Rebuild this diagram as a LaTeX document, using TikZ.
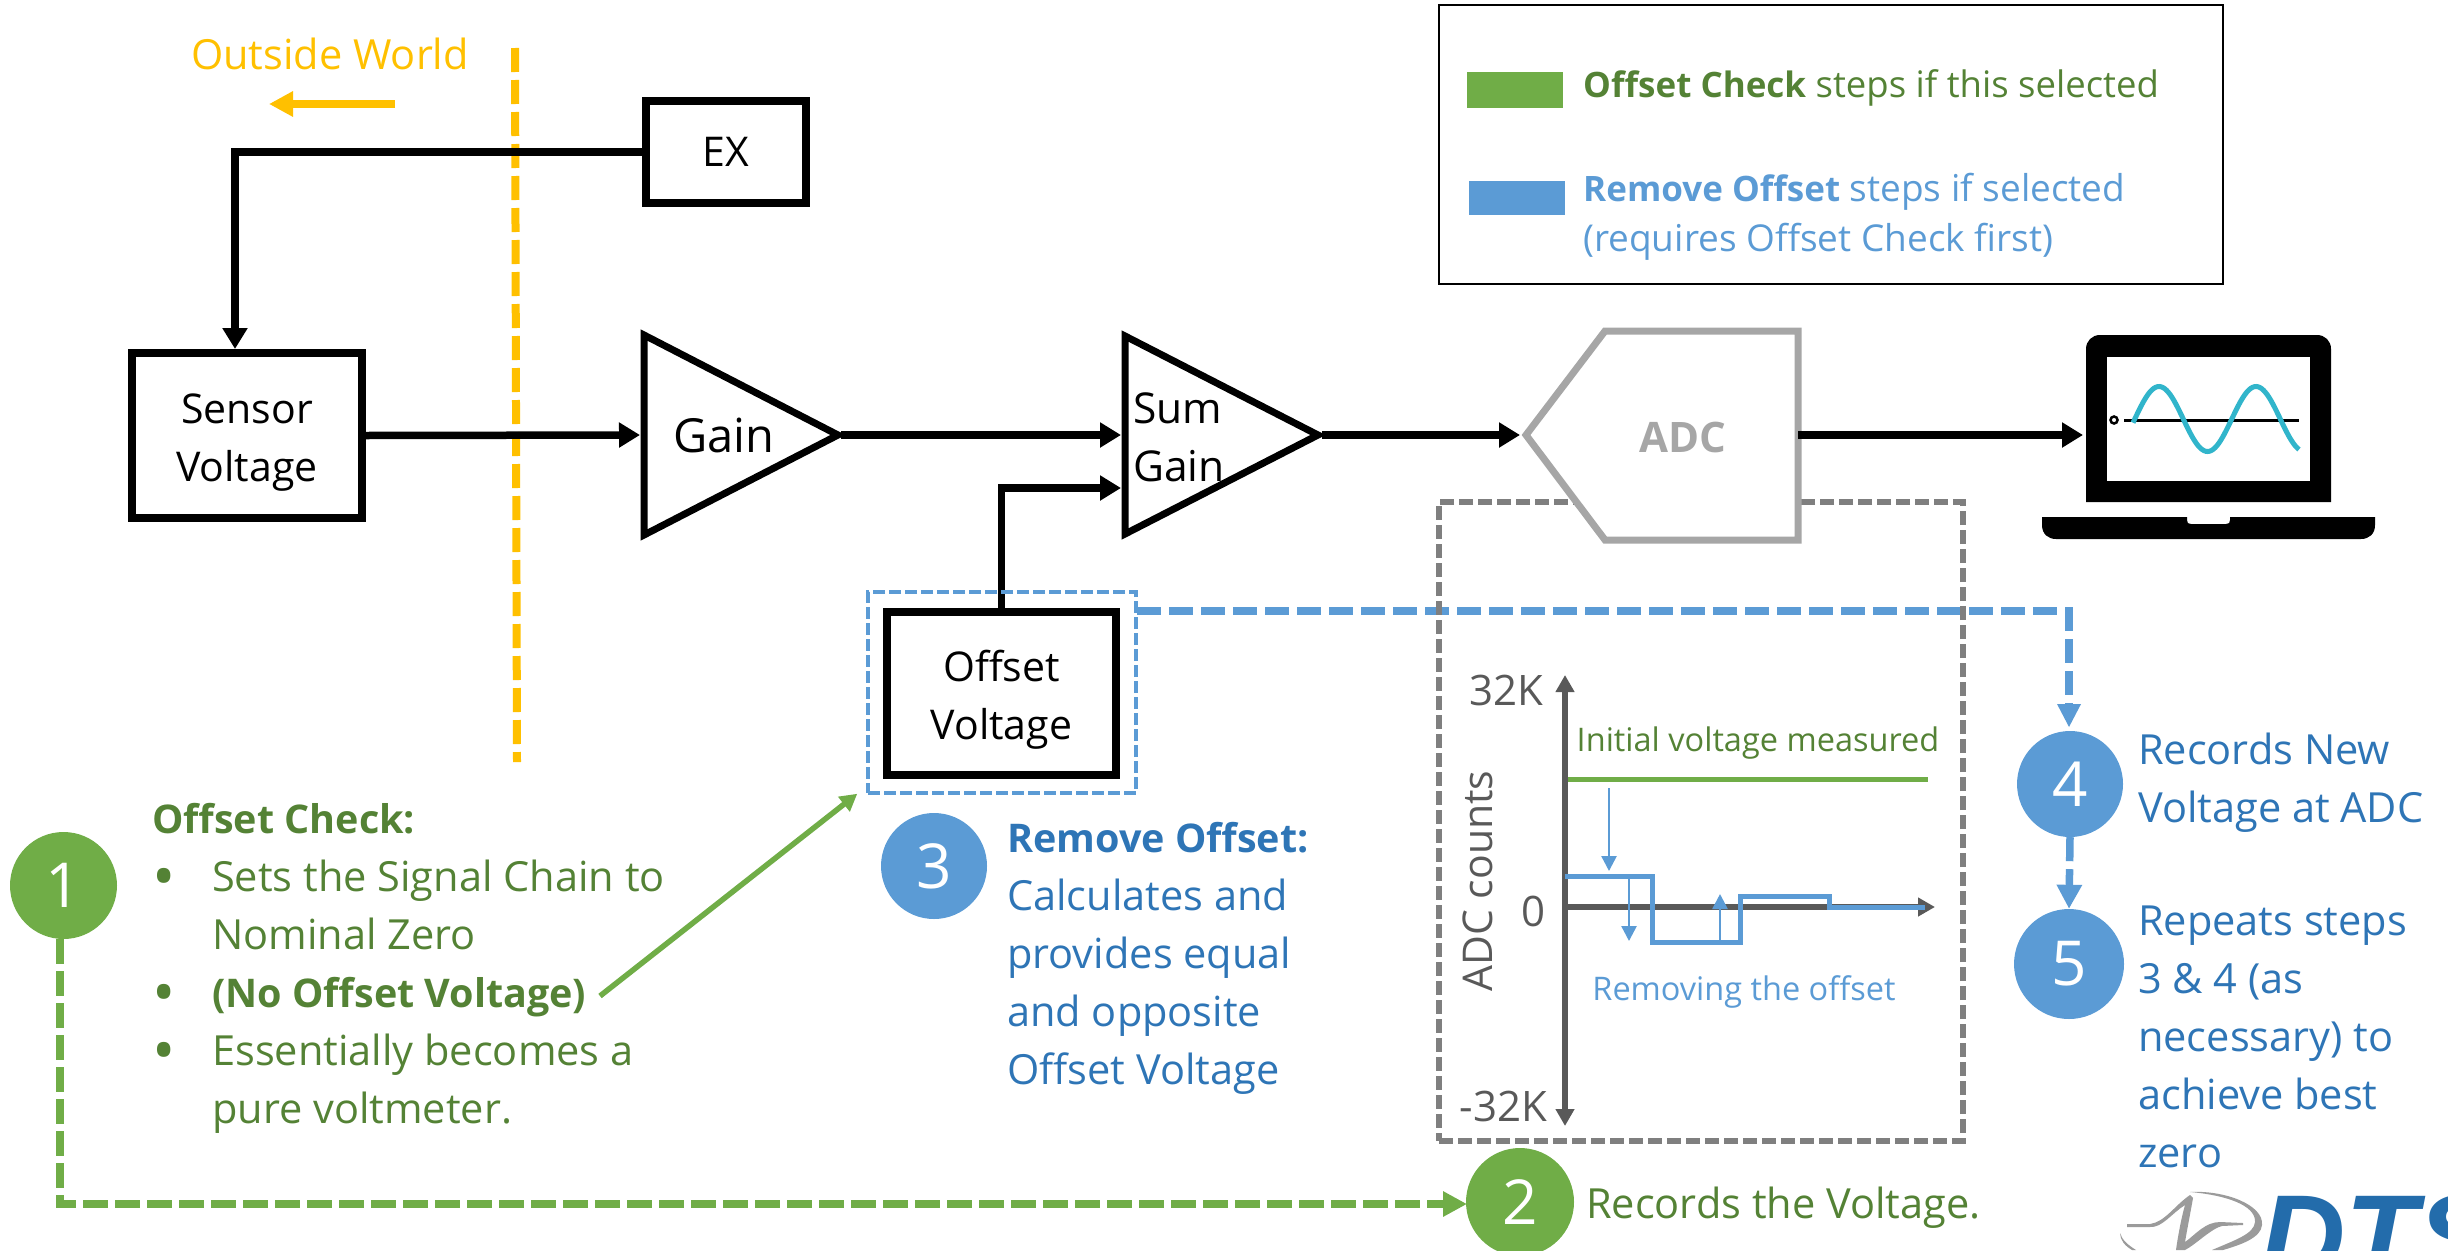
\documentclass[tikz,border=0pt]{standalone}
\usepackage{fontspec}
\setmainfont{Open Sans}
\newfontfamily\logofont{Liberation Sans}
\usetikzlibrary{arrows.meta}
\definecolor{gfill}{HTML}{70AD47}
\definecolor{gtext}{HTML}{548235}
\definecolor{bfill}{HTML}{5B9BD5}
\definecolor{btext}{HTML}{2E75B6}
\definecolor{gold}{HTML}{FFC000}
\definecolor{frameg}{HTML}{7F7F7F}
\definecolor{adcg}{HTML}{A6A6A6}
\definecolor{axisg}{HTML}{595959}
\definecolor{sinec}{HTML}{31B5CB}
\definecolor{logob}{HTML}{236CAB}
\definecolor{logog}{HTML}{9B9B9B}
\newcommand{\fs}[2]{\fontsize{#1}{#2}\selectfont}
\newcommand{\bx}[1]{{\fs{39.5}{58}\bfseries #1}}
\newcommand{\bul}{\makebox[60pt][l]{\raisebox{-7pt}{\fs{62}{58}•}}}
\newcommand{\nobul}{\makebox[60pt][l]{}}
\newcommand{\topstrut}{\rule{0pt}{43pt}}
\tikzset{
  wire/.style={line width=7.5pt,draw=black,-{Triangle[length=21pt,width=24pt]}},
  bigbox/.style={draw=black,line width=7.5pt,fill=white,inner sep=0pt,align=center,font=\fs{41}{58}},
  tri/.style={draw=black,line width=7pt,fill=white,miter limit=10},
  lab/.style={inner sep=0pt,font=\fs{41.5}{58},align=left},
  stepnum/.style={circle,inner sep=0pt,text=white,font=\fs{62}{62}},
  gdash/.style={draw=gfill,line width=8pt,dash pattern=on 25pt off 7pt},
  bdash/.style={draw=bfill,line width=7.5pt,dash pattern=on 24pt off 8pt},
  thinarrow/.style={draw=bfill,line width=2.5pt,-{Triangle[length=15pt,width=15pt]}},
}
\begin{document}
\begin{tikzpicture}[x=1pt,y=-1pt]
\useasboundingbox (0,0) rectangle (2448,1250);
% outside world
\node[lab,text=gold,anchor=center] (outside) at (330,54) {Outside World};
\coordinate (oA) at (395,104); \coordinate (oB) at (269,104);
\draw[draw=gold,line width=8pt,-{Triangle[length=24pt,width=24pt]}] (oA) -- (oB);
\coordinate (bT) at (515,48); \coordinate (bB) at (517,762);
\draw[draw=gold,line width=8pt,dash pattern=on 24pt off 8pt] (bT) -- (bB);
% legend
\node[draw=black,line width=2.5pt,minimum width=784pt,minimum height=279pt,inner sep=0pt] (legend) at (1831,144.5) {};
\node[fill=gfill,minimum width=96pt,minimum height=36pt,inner sep=0pt] (legG) at (1515,90) {};
\node[fill=bfill,minimum width=96pt,minimum height=34pt,inner sep=0pt] (legB) at (1516.5,198) {};
\node[lab,anchor=west,text=gtext,font=\fs{36.5}{50}] (legGt) at (1583,88) {{\fs{35}{50}\bfseries Offset Check} steps if this selected};
\node[lab,anchor=west,text=bfill,font=\fs{37}{50}] (legBt) at (1583,217) {{\fs{35}{50}\bfseries Remove Offset} steps if selected\\(requires Offset Check first)};
% blocks
\node[bigbox,minimum width=160pt,minimum height=102pt] (ex) at (726,152) {EX};
\node[bigbox,minimum width=230pt,minimum height=165pt] (sensor) at (247,435.5) {\topstrut Sensor\\Voltage};
\coordinate (sensorTop) at (235,349);
\draw[wire] (ex.west) -| (sensorTop);
\draw[tri] (644,335) -- (838,435) -- (644,535) -- cycle;
\node[lab,anchor=center,font=\fs{47}{58}] (gain) at (724,435) {Gain};
\draw[tri] (1125,336) -- (1318,435) -- (1125,534) -- cycle;
\node[lab,anchor=west,font=\fs{42.5}{58}] (sumgain) at (1133,437) {Sum\\Gain};
\coordinate (gainIn) at (640,435); \coordinate (gainOut) at (841,435);
\coordinate (sumIn) at (1121,435); \coordinate (sumIn2) at (1121,488);
\coordinate (sumOut) at (1322,435);
\draw[wire] (sensor.east) -- (gainIn);
\draw[wire] (gainOut) -- (sumIn);
\node[bigbox,minimum width=229pt,minimum height=163pt] (offset) at (1001.5,693.5) {\topstrut Offset\\Voltage};
\draw[wire] (offset.north) |- (sumIn2);
% blue dashed
\node[draw=bfill,line width=3.5pt,dash pattern=on 12pt off 4pt,minimum width=268pt,minimum height=201pt,inner sep=0pt] (offFrame) at (1002,692.5) {};
\node[stepnum,fill=bfill,minimum size=106pt] (c3) at (934,866) {3};
\node[stepnum,fill=bfill,minimum size=106pt] (c4) at (2070,784) {4};
\node[stepnum,fill=bfill,minimum size=110pt] (c5) at (2069,964) {5};
\coordinate (offOut) at (1137,611);
\coordinate (c4in) at (2069,704);
\draw[bdash] (offOut) -| (c4in);
\fill[bfill] (2069,727) -- (2057,704) -- (2081,704) -- cycle;
\draw[bdash,-{Triangle[length=24pt,width=24pt]}] (c4.south) -- (c5.north);
% frame and ADC
\node[draw=frameg,line width=5.5pt,dash pattern=on 14pt off 5pt,minimum width=524pt,minimum height=639pt,inner sep=0pt] (adcFrame) at (1701,821.5) {};
\draw[draw=adcg,line width=7pt,fill=white,miter limit=10] (1526,435) -- (1605,331) -- (1798,331) -- (1798,540) -- (1605,540) -- cycle;
\node[lab,anchor=center,text=adcg,font=\fs{42}{58}\bfseries] (adc) at (1683,437) {ADC};
\coordinate (adcIn) at (1520,435); \coordinate (adcOut) at (1798,435);
\coordinate (lapIn) at (2083,435);
\draw[wire] (sumOut) -- (adcIn);
\draw[wire] (adcOut) -- (lapIn);
% laptop
\fill[black] (2086,502) -- (2086,349) .. controls (2086,341) and (2092,335) .. (2100,335) -- (2317,335) .. controls (2325,335) and (2331,341) .. (2331,349) -- (2331,502) -- cycle;
\fill[white] (2107,357) rectangle (2310,481);
\fill[black] (2042,517) -- (2187,517) -- (2187,520) .. controls (2187,523) and (2188,524) .. (2191,524) -- (2226,524) .. controls (2229,524) and (2230,523) .. (2230,520) -- (2230,517) -- (2375,517) -- (2375,525) .. controls (2375,534) and (2369,539) .. (2361,539) -- (2056,539) .. controls (2048,539) and (2042,534) .. (2042,525) -- cycle;
\draw[black,line width=2.5pt] (2114,420) circle[radius=3.5];
\draw[black,line width=3pt] (2124,420) -- (2299,420);
\draw[sinec,line width=5pt,smooth] plot[domain=-26:140,samples=90] ({2159+\x},{419-32.5*cos(3.7113*\x)});
% chart
\coordinate (yT) at (1565,675); \coordinate (yB) at (1565,1126);
\coordinate (xL) at (1565,907); \coordinate (xR) at (1935,907);
\draw[draw=axisg,line width=6pt,{Triangle[length=17pt,width=18pt]}-{Triangle[length=17pt,width=18pt]}] (yT) -- (yB);
\draw[draw=axisg,line width=6pt,-{Triangle[length=17pt,width=18pt]}] (xL) -- (xR);
\coordinate (gL) at (1568,779); \coordinate (gR) at (1928,779);
\draw[draw=gfill,line width=5pt] (gL) -- (gR);
\draw[draw=bfill,line width=5pt,line join=miter] (1565,876) -- (1652,876) -- (1652,942) -- (1740,942) -- (1740,896) -- (1829,896) -- (1829,907) -- (1925,907);
\coordinate (a1a) at (1609,788); \coordinate (a1b) at (1609,871);
\coordinate (a2a) at (1629,876); \coordinate (a2b) at (1629,941);
\coordinate (a3a) at (1720,942); \coordinate (a3b) at (1720,894);
\draw[thinarrow] (a1a) -- (a1b);
\draw[thinarrow] (a2a) -- (a2b);
\draw[thinarrow] (a3a) -- (a3b);
\node[lab,anchor=center,text=gtext,font=\fs{32.5}{36}] (initial) at (1758,743) {Initial voltage measured};
\node[lab,anchor=center,text=bfill,font=\fs{32.5}{36}] (removing) at (1744,992) {Removing the offset};
\node[lab,anchor=east,text=axisg,font=\fs{42}{46}] (k32) at (1543,690) {32K};
\node[lab,anchor=east,text=axisg,font=\fs{42}{46}] (k0) at (1546,911) {0};
\node[lab,anchor=east,text=axisg,font=\fs{42}{46}] (km32) at (1547,1106) {-32K};
\node[lab,anchor=center,text=axisg,font=\fs{41}{46},rotate=90] (counts) at (1478,881) {ADC counts};
% step texts
\node[stepnum,fill=gfill,minimum size=107pt] (c1) at (63.5,885.5) {1};
\node[stepnum,fill=gfill,minimum size=108pt] (c2) at (1520,1202) {2};
\coordinate (c1out) at (60,939); \coordinate (c2in) at (1467,1204);
\draw[gdash,-{Triangle[length=24pt,width=24pt]}] (c1out) |- (c2in);
\node[lab,anchor=west,text=gtext] (t1) at (152,968) {\bx{Offset Check:}\\
\bul Sets the Signal Chain to\\
\nobul Nominal Zero\\
\bul\bx{(No Offset Voltage)}\\
\bul Essentially becomes a\\
\nobul pure voltmeter.};
\coordinate (noOff) at (600,996);
\draw[draw=gfill,line width=5.5pt,-{Triangle[length=17pt,width=18pt]}] (noOff) -- ([xshift=-9pt,yshift=1pt]offFrame.south west);
\node[lab,anchor=west,text=btext] (t3) at (1007,958) {\bx{Remove Offset:}\\Calculates and\\provides equal\\and opposite\\Offset Voltage};
\node[lab,anchor=west,text=btext] (t4) at (2138,783) {Records New\\Voltage at ADC};
\node[lab,anchor=west,text=btext] (t5) at (2138,1037) {Repeats steps\\3 \& 4 (as\\necessary) to\\achieve best\\zero};
\node[lab,anchor=west,text=gtext] (t2) at (1586,1208) {Records the Voltage.};
% logo
\begin{scope}
\clip (0,0) rectangle (2448,1250);
\fill[logog] (2190,1192) .. controls (2225,1190) and (2264,1205) .. (2262,1225) .. controls (2261,1238) and (2240,1245) .. (2223,1250) -- (2212,1250) .. controls (2235,1240) and (2254,1234) .. (2255,1222) .. controls (2256,1205) and (2225,1195) .. (2190,1192) -- cycle;
\fill[logog] (2120,1233) .. controls (2120,1240) and (2125,1246) .. (2132,1250) -- (2136,1250) .. controls (2128,1245) and (2122,1240) .. (2120,1233) -- cycle;
\fill[logog] (2127,1224) -- (2150,1224) .. controls (2165,1222) and (2175,1205) .. (2190,1195) -- (2193,1198) .. controls (2190,1215) and (2187,1230) .. (2185,1242) .. controls (2195,1235) and (2205,1222) .. (2220,1222) -- (2243,1223) -- (2243,1225) -- (2222,1226) .. controls (2212,1228) and (2195,1245) .. (2185,1250) -- (2176,1250) .. controls (2178,1235) and (2182,1215) .. (2185,1205) .. controls (2172,1213) and (2162,1228) .. (2150,1227) -- (2127,1227) -- cycle;
\node[inner sep=0pt,anchor=base west,text=logob,font=\logofont\fs{118}{118}\bfseries\itshape] (dts) at (2260,1277) {DTS};
\end{scope}
\end{tikzpicture}
\end{document}
